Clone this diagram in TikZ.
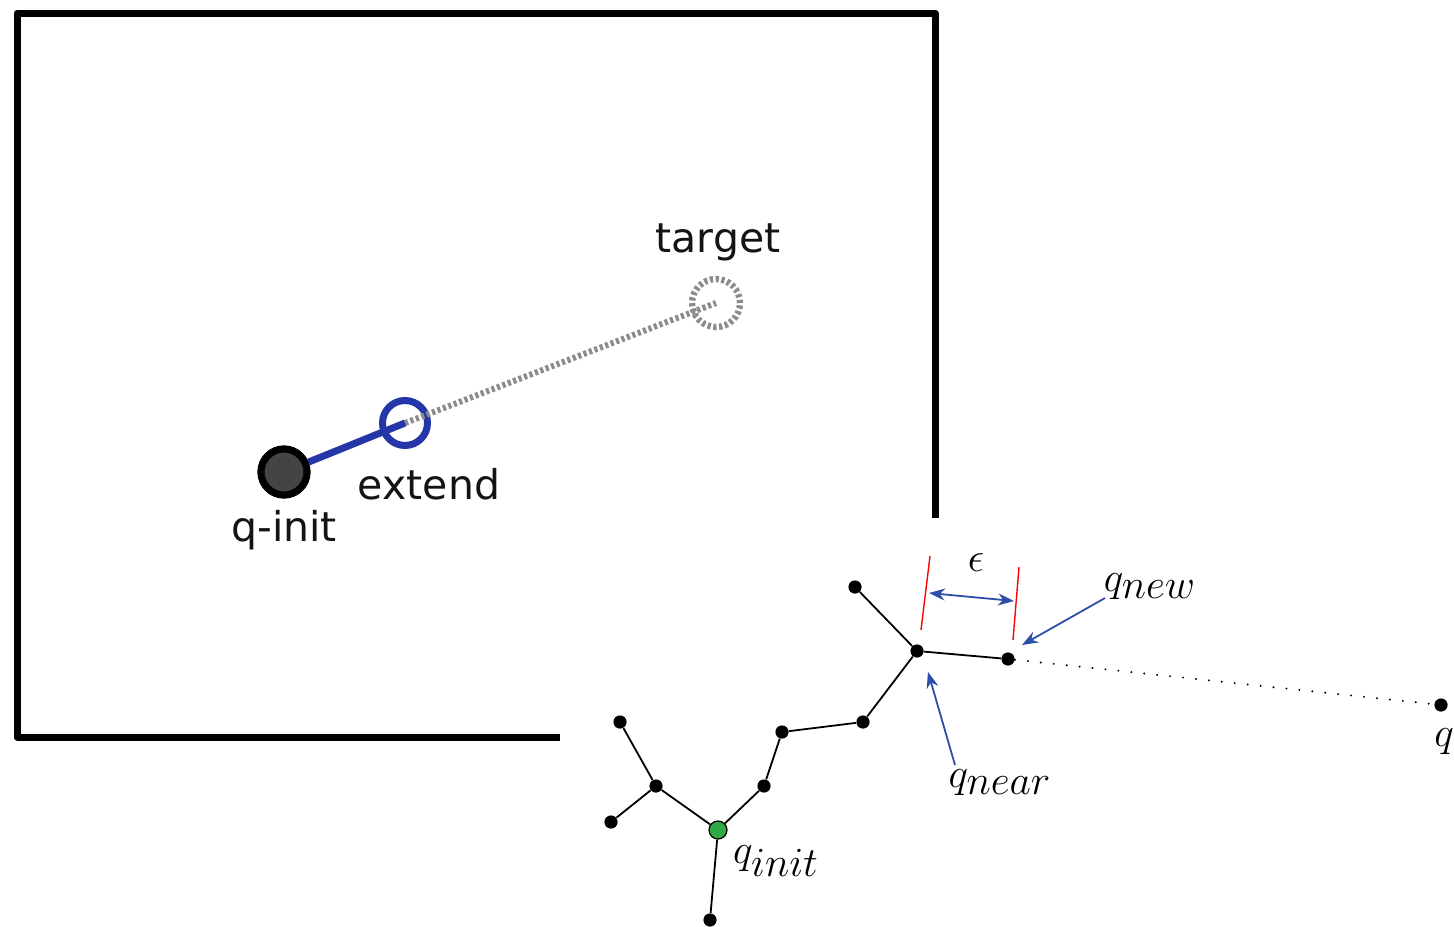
\documentclass[tikz,border=0pt]{standalone}
\usepackage{fontspec}
\newfontfamily\dvs{DejaVu Sans}
\usetikzlibrary{arrows.meta}
\definecolor{bblue}{HTML}{2436A8}
\definecolor{ablue}{HTML}{2E4FA8}
\definecolor{dgray}{HTML}{444444}
\definecolor{ggreen}{HTML}{2FAA45}
\definecolor{dashgray}{HTML}{8C8C8C}
\tikzset{
  sanslabel/.style={font=\dvs\fontsize{20.5}{24}\selectfont, text=black!92, inner sep=0pt},
  mathlabel/.style={font=\fontsize{19.5}{23}\selectfont, inner sep=0pt},
  treedot/.style={circle, fill=black, inner sep=0pt, minimum size=6.6pt},
  rootdot/.style={circle, fill=ggreen, draw=black, line width=0.6pt, inner sep=0pt, minimum size=9pt},
  treeedge/.style={line width=0.9pt, black},
  bluearrow/.style={line width=0.9pt, ablue, -{Stealth[length=8pt,width=6pt]}},
  redtick/.style={line width=0.7pt, red},
}
\begin{document}
\begin{tikzpicture}[x=0.5pt, y=-0.5pt]
\useasboundingbox (0,0) rectangle (1454,926);
% upper picture
\draw[line width=3.5pt, line join=round] (17,13) rectangle (935,737);
\node[circle, draw=dashgray, dash pattern=on 1.6pt off 1.3pt, line width=3.2pt, minimum size=24pt, inner sep=0pt] (tgt) at (716,303) {};
\node[circle, draw=bblue, fill=white, line width=3.5pt, minimum size=22.5pt, inner sep=0pt] (ext) at (405,423) {};
\node[circle, draw=black, fill=dgray, line width=3.5pt, minimum size=23pt, inner sep=0pt] (qi) at (284,472) {};
\draw[dashgray, line width=3pt, dash pattern=on 1.6pt off 1.3pt] (ext.center) -- (tgt.center);
\draw[bblue, line width=3.5pt] (qi) -- (ext.center);
\node[circle, draw=black, fill=dgray, line width=3.5pt, minimum size=23pt, inner sep=0pt] at (qi) {};
\node[sanslabel] (ltgt) at (718,242) {target};
\node[sanslabel] (lext) at (429,484) {extend};
\node[sanslabel] (lqi) at (284,530) {q-init};
% lower picture
\fill[white] (560,518) rectangle (1454,926);
\node[rootdot] (n1) at (718,830) {};
\node[treedot] (n2) at (710,920) {};
\node[treedot] (n3) at (656,786) {};
\node[treedot] (n4) at (620,722) {};
\node[treedot] (n5) at (611,822) {};
\node[treedot] (n6) at (764,786) {};
\node[treedot] (n7) at (782,732) {};
\node[treedot] (n8) at (863,722) {};
\node[treedot] (n9) at (917,651) {};
\node[treedot] (n10) at (855,587) {};
\node[treedot] (n11) at (1008,659) {};
\node[treedot] (n12) at (1441,705) {};
\draw[treeedge] (n1) -- (n2);
\draw[treeedge] (n1) -- (n3);
\draw[treeedge] (n3) -- (n4);
\draw[treeedge] (n3) -- (n5);
\draw[treeedge] (n1) -- (n6);
\draw[treeedge] (n6) -- (n7);
\draw[treeedge] (n7) -- (n8);
\draw[treeedge] (n8) -- (n9);
\draw[treeedge] (n9) -- (n10);
\draw[treeedge] (n9) -- (n11);
\draw[line width=1.1pt, line cap=round, dash pattern=on 0pt off 6.5pt] (n11) -- (n12);
% epsilon
\coordinate (r1a) at (930,556); \coordinate (r1b) at (921,630);
\coordinate (r2a) at (1019,567); \coordinate (r2b) at (1013,640);
\draw[redtick] (r1a) -- (r1b);
\draw[redtick] (r2a) -- (r2b);
\coordinate (ea) at (929,593); \coordinate (eb) at (1014,601);
\draw[line width=0.9pt, ablue, {Stealth[length=8pt,width=6pt]}-{Stealth[length=8pt,width=6pt]}] (ea) -- (eb);
\node[mathlabel] (leps) at (976,563) {$\epsilon$};
% labels
\node[mathlabel] (lqnew) at (1150,587) {$q_{\textstyle new}$};
\node[mathlabel] (lqnear) at (1000,783) {$q_{\textstyle near}$};
\node[mathlabel] (lqinit) at (776,861) {$q_{\textstyle init}$};
\node[mathlabel] (lq) at (1444,742) {$q$};
\coordinate (aqnew) at (1105,598);
\coordinate (aqnear) at (955,765);
\draw[bluearrow] (aqnew) -- (1022,645);
\draw[bluearrow] (aqnear) -- (928,672);
\end{tikzpicture}
\end{document}
